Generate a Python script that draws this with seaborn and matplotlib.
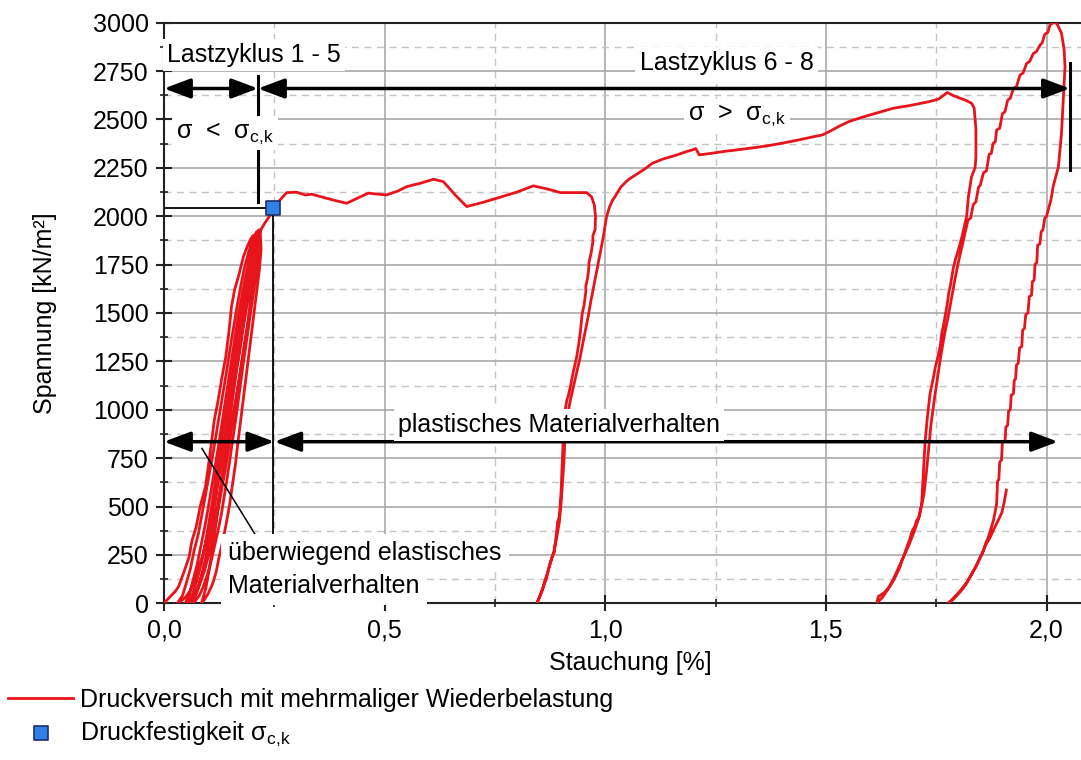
import numpy as np
import pandas as pd
import matplotlib
matplotlib.use("Agg")
import matplotlib.pyplot as plt
from matplotlib.ticker import AutoMinorLocator, FixedLocator
import seaborn as sns

# ---------------- data ----------------
# elastic load cycles 1-5 (strain %, stress kN/m2)
c1_load_x = [0.000, 0.012, 0.025, 0.033, 0.045, 0.057, 0.063, 0.073, 0.082, 0.094, 0.100, 0.107, 0.114, 0.122, 0.130, 0.140, 0.147, 0.153, 0.160, 0.170, 0.180, 0.188, 0.196, 0.202]
c1_load_y = [0, 30, 60, 86, 160, 241, 320, 396, 500, 603, 700, 820, 947, 1040, 1150, 1274, 1400, 1533, 1620, 1700, 1791, 1840, 1880, 1900]
c1_unld_x = [0.202, 0.205, 0.200, 0.196, 0.188, 0.180, 0.172, 0.163, 0.155, 0.146, 0.137, 0.128, 0.120, 0.112, 0.104, 0.096, 0.088, 0.078, 0.068, 0.058, 0.048, 0.038, 0.030]
c1_unld_y = [1900, 1820, 1730, 1640, 1540, 1430, 1310, 1200, 1080, 960, 840, 730, 620, 520, 420, 330, 250, 180, 110, 60, 30, 10, 0]
c2_load_x = [0.030, 0.042, 0.050, 0.060, 0.068, 0.078, 0.086, 0.094, 0.102, 0.110, 0.118, 0.126, 0.134, 0.142, 0.150, 0.158, 0.166, 0.174, 0.182, 0.190, 0.198, 0.205, 0.210]
c2_load_y = [0, 40, 100, 180, 270, 360, 460, 560, 660, 760, 870, 980, 1090, 1200, 1320, 1430, 1540, 1640, 1730, 1800, 1860, 1900, 1920]
c2_unld_x = [0.210, 0.212, 0.208, 0.203, 0.196, 0.190, 0.182, 0.175, 0.168, 0.160, 0.152, 0.145, 0.138, 0.130, 0.122, 0.115, 0.108, 0.100, 0.092, 0.083, 0.074, 0.065, 0.056, 0.048]
c2_unld_y = [1920, 1850, 1760, 1660, 1560, 1450, 1340, 1230, 1120, 1000, 890, 780, 680, 580, 480, 390, 310, 240, 170, 110, 60, 30, 10, 0]
c3_load_x = [0.048, 0.058, 0.066, 0.075, 0.083, 0.092, 0.100, 0.108, 0.116, 0.124, 0.132, 0.140, 0.148, 0.156, 0.164, 0.172, 0.180, 0.188, 0.196, 0.204, 0.210, 0.215]
c3_load_y = [0, 50, 120, 200, 290, 390, 490, 600, 710, 820, 940, 1060, 1180, 1300, 1420, 1530, 1630, 1720, 1800, 1870, 1910, 1930]
c3_unld_x = [0.215, 0.216, 0.212, 0.207, 0.200, 0.193, 0.186, 0.179, 0.172, 0.165, 0.158, 0.151, 0.144, 0.137, 0.130, 0.122, 0.114, 0.106, 0.097, 0.088, 0.080, 0.072, 0.065]
c3_unld_y = [1930, 1860, 1770, 1670, 1560, 1450, 1340, 1230, 1110, 990, 880, 770, 660, 560, 460, 370, 290, 210, 140, 80, 40, 15, 0]
c4_load_x = [0.065, 0.075, 0.085, 0.094, 0.102, 0.110, 0.118, 0.126, 0.134, 0.142, 0.150, 0.158, 0.166, 0.174, 0.182, 0.190, 0.198, 0.205, 0.212, 0.218]
c4_load_y = [0, 60, 140, 230, 330, 440, 550, 670, 790, 910, 1040, 1170, 1300, 1420, 1540, 1650, 1750, 1830, 1890, 1920]
c4_unld_x = [0.218, 0.220, 0.216, 0.210, 0.204, 0.198, 0.192, 0.186, 0.180, 0.174, 0.168, 0.162, 0.155, 0.148, 0.140, 0.132, 0.124, 0.118, 0.110, 0.100, 0.092, 0.085]
c4_unld_y = [1920, 1830, 1720, 1610, 1500, 1390, 1280, 1170, 1060, 950, 840, 720, 610, 500, 400, 310, 230, 160, 100, 50, 20, 0]
c5_load_x = [0.085, 0.095, 0.103, 0.110, 0.117, 0.124, 0.131, 0.138, 0.145, 0.152, 0.160, 0.168, 0.176, 0.184, 0.192, 0.200, 0.208, 0.214]
c5_load_y = [0, 80, 180, 290, 400, 520, 640, 760, 880, 1000, 1130, 1260, 1390, 1510, 1630, 1740, 1830, 1880]
c5_unld_x = [0.214, 0.212, 0.206, 0.199, 0.192, 0.185, 0.177, 0.169, 0.161, 0.153, 0.145, 0.137, 0.129, 0.121, 0.113, 0.105, 0.097, 0.089, 0.080, 0.071, 0.062, 0.055]
c5_unld_y = [1880, 1790, 1690, 1580, 1470, 1360, 1250, 1140, 1030, 920, 810, 700, 600, 500, 410, 320, 240, 170, 100, 50, 15, 0]
# cycle 6: loading to failure, plastic plateau, unloading
c6_load_x = [0.055, 0.065, 0.075, 0.085, 0.094, 0.102, 0.110, 0.118, 0.126, 0.134, 0.142, 0.150, 0.158, 0.166, 0.174, 0.182, 0.190, 0.198, 0.206, 0.214, 0.222, 0.230, 0.236, 0.242, 0.246, 0.248]
c6_load_y = [0, 50, 120, 210, 310, 420, 530, 650, 770, 890, 1010, 1130, 1250, 1370, 1480, 1590, 1690, 1780, 1850, 1900, 1940, 1970, 1990, 2010, 2030, 2041]
c6_plat_x = [0.255, 0.263, 0.278, 0.301, 0.320, 0.335, 0.360, 0.390, 0.414, 0.440, 0.463, 0.504, 0.530, 0.550, 0.580, 0.611, 0.633, 0.660, 0.686, 0.720, 0.754, 0.800, 0.837, 0.870, 0.899, 0.930, 0.958, 0.969]
c6_plat_y = [2065, 2084, 2122, 2124, 2110, 2114, 2098, 2080, 2067, 2095, 2119, 2110, 2130, 2153, 2170, 2191, 2179, 2110, 2050, 2070, 2093, 2125, 2157, 2140, 2122, 2122, 2122, 2100]
c6_unld_x = [0.975, 0.978, 0.977, 0.972, 0.972, 0.968, 0.963, 0.963, 0.960, 0.956, 0.956, 0.952, 0.948, 0.947, 0.944, 0.940, 0.937, 0.935, 0.928, 0.926, 0.922, 0.916, 0.913, 0.910, 0.907, 0.905, 0.904, 0.902, 0.900, 0.896, 0.892, 0.890, 0.886, 0.884, 0.880, 0.874, 0.872, 0.866, 0.862, 0.858, 0.851, 0.845]
c6_unld_y = [2060, 2000, 1930, 1900, 1870, 1810, 1760, 1740, 1680, 1640, 1610, 1540, 1500, 1480, 1410, 1340, 1300, 1270, 1200, 1180, 1130, 1070, 1050, 1010, 950, 880, 800, 700, 580, 450, 420, 370, 300, 260, 240, 200, 180, 120, 100, 70, 30, 0]
# cycle 7
c7_load_x = [0.852, 0.860, 0.862, 0.868, 0.876, 0.878, 0.884, 0.890, 0.896, 0.900, 0.903, 0.906, 0.908, 0.910, 0.914, 0.916, 0.920, 0.927, 0.929, 0.934, 0.941, 0.943, 0.948, 0.955, 0.957, 0.962, 0.968, 0.970, 0.974, 0.980, 0.982, 0.985, 0.990, 0.996, 1.003, 1.010, 1.016, 1.022, 1.035, 1.048, 1.056, 1.070, 1.090, 1.107, 1.130, 1.160, 1.184, 1.198, 1.205, 1.213]
c7_load_y = [40, 90, 110, 150, 210, 230, 270, 340, 420, 520, 620, 720, 820, 900, 970, 990, 1040, 1110, 1130, 1180, 1250, 1270, 1330, 1410, 1430, 1490, 1570, 1590, 1640, 1710, 1730, 1770, 1826, 1900, 1998, 2050, 2080, 2101, 2150, 2180, 2195, 2215, 2245, 2274, 2295, 2315, 2334, 2343, 2350, 2317]
c7_plat_x = [1.240, 1.270, 1.299, 1.340, 1.370, 1.400, 1.440, 1.470, 1.492, 1.510, 1.530, 1.552, 1.580, 1.610, 1.653, 1.690, 1.734, 1.755, 1.775, 1.790, 1.804, 1.818, 1.830]
c7_plat_y = [2325, 2335, 2343, 2355, 2365, 2377, 2395, 2410, 2420, 2440, 2465, 2489, 2510, 2530, 2558, 2572, 2592, 2605, 2639, 2622, 2610, 2598, 2584]
c7_unld_x = [1.836, 1.840, 1.840, 1.838, 1.830, 1.823, 1.819, 1.812, 1.809, 1.804, 1.797, 1.794, 1.789, 1.782, 1.779, 1.774, 1.766, 1.763, 1.759, 1.751, 1.748, 1.744, 1.736, 1.730, 1.725, 1.721, 1.717, 1.710, 1.706, 1.702, 1.695, 1.690, 1.685, 1.676, 1.672, 1.668, 1.656, 1.652, 1.645, 1.632, 1.619, 1.615]
c7_unld_y = [2560, 2450, 2304, 2250, 2203, 2100, 1999, 1930, 1900, 1857, 1800, 1780, 1734, 1640, 1610, 1531, 1430, 1400, 1327, 1246, 1220, 1170, 1083, 960, 839, 680, 513, 440, 430, 400, 371, 330, 300, 240, 220, 188, 130, 115, 86, 55, 35, 0]
# cycle 8
c8_load_x = [1.628, 1.640, 1.652, 1.664, 1.676, 1.688, 1.700, 1.712, 1.722, 1.728, 1.733, 1.738, 1.745, 1.752, 1.760, 1.768, 1.777, 1.785, 1.793, 1.800, 1.808, 1.815, 1.822, 1.828, 1.834, 1.840, 1.846, 1.850, 1.857, 1.864, 1.870, 1.875, 1.879, 1.884, 1.887, 1.894, 1.900, 1.906, 1.912, 1.918, 1.925, 1.932, 1.940, 1.947, 1.955, 1.962, 1.970, 1.977, 1.985, 1.990, 1.996, 2.003, 2.008, 2.016, 2.023]
c8_load_y = [30, 70, 120, 180, 240, 300, 370, 450, 560, 680, 800, 920, 1040, 1150, 1270, 1380, 1480, 1580, 1680, 1760, 1840, 1910, 1980, 1990, 2060, 2075, 2150, 2160, 2224, 2235, 2320, 2325, 2377, 2385, 2446, 2455, 2530, 2540, 2600, 2610, 2660, 2670, 2730, 2740, 2790, 2800, 2840, 2850, 2883, 2895, 2940, 2950, 2990, 3000, 2998]
c8_unld_x = [2.034, 2.040, 2.042, 2.040, 2.038, 2.034, 2.027, 2.015, 2.010, 2.000, 1.996, 1.992, 1.988, 1.985, 1.980, 1.978, 1.974, 1.972, 1.968, 1.966, 1.961, 1.958, 1.953, 1.950, 1.946, 1.944, 1.939, 1.936, 1.932, 1.930, 1.927, 1.925, 1.920, 1.918, 1.914, 1.912, 1.908, 1.906, 1.900, 1.898, 1.894, 1.892, 1.889, 1.887, 1.880, 1.868, 1.864, 1.855, 1.850, 1.840, 1.825, 1.820, 1.810, 1.795, 1.785, 1.777]
c8_unld_y = [2946, 2860, 2773, 2690, 2601, 2429, 2256, 2153, 2084, 2000, 1990, 1930, 1920, 1857, 1850, 1760, 1752, 1670, 1662, 1592, 1585, 1500, 1492, 1420, 1412, 1327, 1320, 1240, 1232, 1160, 1152, 1083, 1075, 1000, 992, 920, 912, 839, 830, 740, 730, 640, 630, 513, 430, 340, 320, 260, 240, 188, 130, 110, 80, 40, 15, 0]
end_load_x = [1.790, 1.805, 1.818, 1.830, 1.842, 1.853, 1.862, 1.872, 1.880, 1.887, 1.893, 1.899, 1.904, 1.909]
end_load_y = [25, 60, 100, 150, 200, 250, 300, 340, 380, 412, 440, 470, 520, 585]

# compressive strength sigma_c,k
strength_x = [0.248]
strength_y = [2041]

x_ticks = [0.0, 0.5, 1.0, 1.5, 2.0]
x_tick_labels = ["0,0", "0,5", "1,0", "1,5", "2,0"]
y_ticks = [0, 250, 500, 750, 1000, 1250, 1500, 1750, 2000, 2250, 2500, 2750, 3000]

SUB = "$_{\\mathregular{c{,}k}}$"
label_curve = "Druckversuch mit mehrmaliger Wiederbelastung"
label_point = "Druckfestigkeit σ" + SUB

# ---------------- assemble ----------------
xs = (c1_load_x + c1_unld_x + c2_load_x + c2_unld_x + c3_load_x + c3_unld_x + c4_load_x + c4_unld_x
      + c5_load_x + c5_unld_x + c6_load_x + c6_plat_x + c6_unld_x + c7_load_x + c7_plat_x + c7_unld_x
      + c8_load_x + c8_unld_x + end_load_x)
ys = (c1_load_y + c1_unld_y + c2_load_y + c2_unld_y + c3_load_y + c3_unld_y + c4_load_y + c4_unld_y
      + c5_load_y + c5_unld_y + c6_load_y + c6_plat_y + c6_unld_y + c7_load_y + c7_plat_y + c7_unld_y
      + c8_load_y + c8_unld_y + end_load_y)
df = pd.DataFrame({"Stauchung": xs, "Spannung": ys})

# ---------------- style ----------------
plt.rcParams["font.family"] = ["Liberation Sans", "DejaVu Sans"]
plt.rcParams["mathtext.fontset"] = "custom"
plt.rcParams["mathtext.rm"] = "Liberation Sans"
FS = 18
RED = "#e8141b"

fig = plt.figure(figsize=(10.81, 7.60), dpi=100)
ax = fig.add_axes([164 / 1081, 1 - 603.3 / 760, 1 - 164 / 1081, (603.3 - 22.7) / 760])

sns.lineplot(data=df, x="Stauchung", y="Spannung", sort=False, estimator=None,
             color=RED, lw=2.0, ax=ax, label=label_curve, zorder=3)
sns.scatterplot(x=strength_x, y=strength_y, marker="s", s=110, color="#2f7fe6",
                edgecolor="#1b2f6e", linewidth=1.2, ax=ax, label=label_point, zorder=6)

ax.set_xlim(0, 917 / 441.25)
ax.set_ylim(0, 3000)
ax.xaxis.set_major_locator(FixedLocator(x_ticks))
ax.set_xticklabels(x_tick_labels)
ax.yaxis.set_major_locator(FixedLocator(y_ticks))
ax.xaxis.set_minor_locator(AutoMinorLocator(2))
ax.yaxis.set_minor_locator(AutoMinorLocator(2))

ax.set_axisbelow(True)
ax.grid(which="major", color="#a9a9a9", lw=1.2, ls="-", zorder=0)
ax.grid(which="minor", color="#c4c4c4", lw=1.0, ls=(0, (5, 4)), zorder=0)

for s in ["left", "bottom", "top"]:
    ax.spines[s].set_linewidth(1.5)
    ax.spines[s].set_color("#222222")
ax.spines["right"].set_visible(False)
ax.tick_params(which="major", direction="inout", length=12, width=1.5, labelsize=FS, pad=5, color="#222222")
ax.tick_params(which="minor", direction="inout", length=6, width=1.2, color="#222222")
ax.tick_params(axis="both", which="both", top=False, right=False)

ax.set_xlabel("Stauchung [%]", fontsize=FS)
ax.set_ylabel("Spannung [kN/m²]", fontsize=FS)
ax.xaxis.set_label_coords((630 - 164) / 917, -(651 - 603.3) / 580.6)
ax.yaxis.set_label_coords(-(164 - 57) / 917, 0.5)

# ---------------- annotations ----------------
arrow_y_top = 2660
arrow_y_low = 835
x_split_top = 0.213
x_end_top = 2.053
x_split_low = 0.25
x_end_low = 2.026
aprops = dict(arrowstyle="<|-|>,head_length=0.8,head_width=0.3", color="black", lw=2.5,
              shrinkA=0, shrinkB=0, mutation_scale=20)
for (x0, x1, yy) in [(0.0, x_split_top, arrow_y_top), (x_split_top, x_end_top, arrow_y_top),
                     (0.0, x_split_low, arrow_y_low), (x_split_low, x_end_low, arrow_y_low)]:
    ax.annotate("", xy=(x1, yy), xytext=(x0, yy), arrowprops=aprops, zorder=4)

ax.plot([x_split_top, x_split_top], [2075, 2725], color="black", lw=2.2, zorder=4)
ax.plot([x_end_top, x_end_top], [2240, 2790], color="black", lw=2.2, zorder=4)
ax.plot([0, strength_x[0]], [strength_y[0], strength_y[0]], color="black", lw=1.3, zorder=4)
ax.plot([strength_x[0], strength_x[0]], [strength_y[0], 0], color="black", lw=1.3, zorder=4)
ax.plot([0.086, 0.206], [800, 358], color="black", lw=1.1, zorder=4)

tb = dict(facecolor="white", edgecolor="none", pad=3)
ax.text(0.007, 2833, "Lastzyklus 1 - 5", fontsize=FS, ha="left", va="center", bbox=tb, zorder=5)
ax.text(1.275, 2792, "Lastzyklus 6 - 8", fontsize=FS, ha="center", va="center", bbox=tb, zorder=5)
ax.text(0.027, 2405, "σ  <  σ" + SUB, fontsize=FS, ha="left", va="baseline", bbox=tb, zorder=5)
ax.text(1.188, 2497, "σ  >  σ" + SUB, fontsize=FS, ha="left", va="baseline", bbox=tb, zorder=5)
ax.text(0.530, 885, "plastisches Materialverhalten", fontsize=FS, ha="left", va="baseline", bbox=tb, zorder=5)
ax.text(0.146, 224, "überwiegend elastisches", fontsize=FS, ha="left", va="baseline",
        bbox=dict(facecolor="white", edgecolor="none", pad=5), zorder=5)
ax.text(0.146, 53, "Materialverhalten", fontsize=FS, ha="left", va="baseline",
        bbox=dict(facecolor="white", edgecolor="none", pad=5), zorder=5)

# ---------------- legend below the plot ----------------
handles, labels = ax.get_legend_handles_labels()
ax.legend_.remove()
fig.legend(handles, labels, loc="upper left", bbox_to_anchor=(8 / 1081, 1 - 688 / 760),
           frameon=False, fontsize=FS, handlelength=2.6, handletextpad=0.3,
           labelspacing=0.3, borderpad=0, borderaxespad=0)

fig.savefig("out.png", dpi=100)
